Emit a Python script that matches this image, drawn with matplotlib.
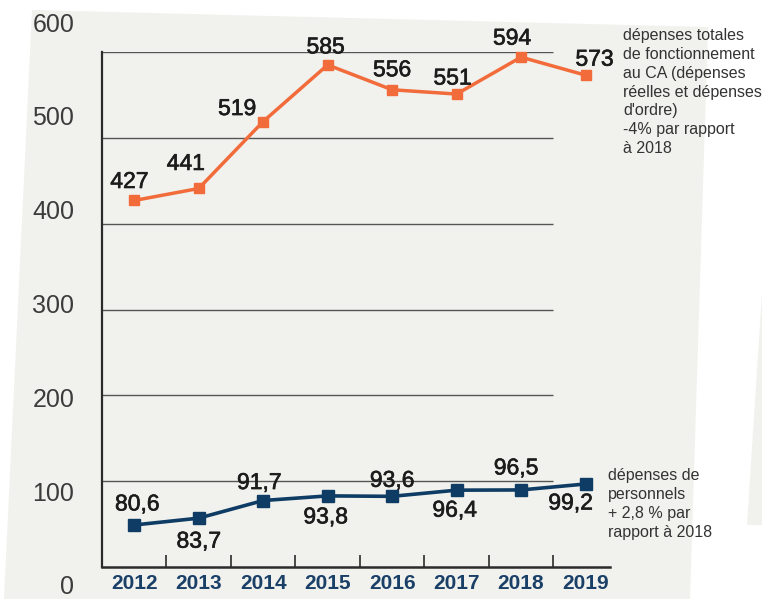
import matplotlib
matplotlib.use("Agg")
import matplotlib.pyplot as plt
import matplotlib.patheffects as pe
from matplotlib.patches import Polygon
import numpy as np

# data
years = ["2012", "2013", "2014", "2015", "2016", "2017", "2018", "2019"]
total = [427, 441, 519, 585, 556, 551, 594, 573]
staff = [80.6, 83.7, 91.7, 93.8, 93.6, 96.4, 96.5, 99.2]
ytick_vals = [0, 100, 200, 300, 400, 500, 600]

txt_total = ("dépenses totales\nde fonctionnement\nau CA (dépenses\n"
             "réelles et dépenses\nd'ordre)\n-4% par rapport\nà 2018")
txt_staff = "dépenses de\npersonnels\n+ 2,8 % par\nrapport à 2018"

# label offsets in pixels (dx, dy)
off_total = [(-5, 19), (-13, 25), (-26, 13), (-2, 18), (0, 20), (-4, 16), (-9, 19), (9, 16)]
off_staff = [(3, 21), (0, -23), (-4, 18), (-2, -21), (0, 16), (-2, -20), (-5, 22), (-15, -19)]

orange = "#f26b3a"
navy = "#0f3c64"
bg = "#f1f1ed"
dark = "#2b2b2b"
numcol = "#1c1c1c"

plt.rcParams["font.family"] = ["Liberation Sans", "DejaVu Sans"]

W, H = 762, 599
fig = plt.figure(figsize=(W / 100, H / 100), dpi=100)
fig.patch.set_facecolor("white")


def fx(x):
    return x / W


def fy(y):
    return 1 - y / H


# grey paper shapes
main_bg = [(32, 10), (708, 27), (690, 599), (4, 599)]
fig.add_artist(Polygon([(fx(a), fy(b)) for a, b in main_bg], closed=True,
                       transform=fig.transFigure, facecolor=bg, edgecolor="none", zorder=0))
wedge = [(764, 262), (764, 525), (747, 525)]
fig.add_artist(Polygon([(fx(a), fy(b)) for a, b in wedge], closed=True,
                       transform=fig.transFigure, facecolor=bg, edgecolor="none", zorder=0))

# main axes
left, right, top, bottom = 102, 610, 52, 567
ax = fig.add_axes([fx(left), fy(bottom), fx(right - left), (bottom - top) / H])
ax.patch.set_visible(False)
x = np.arange(len(years))
ax.set_xlim(-0.5, 7.38)
ax.set_ylim(0, 600)

ax.hlines([100, 200, 300, 400, 500, 600], -0.5, 6.5, color="#555555", lw=1.0, zorder=1)
for s in ["top", "right"]:
    ax.spines[s].set_visible(False)
ax.spines["left"].set_color(dark)
ax.spines["left"].set_linewidth(1.6)
ax.spines["bottom"].set_color(dark)
ax.spines["bottom"].set_linewidth(1.8)
ax.set_yticks([])

ax.set_xticks(x)
ax.set_xticklabels(years, fontsize=15, fontweight="bold", color="#1a4068")
ax.tick_params(axis="x", which="major", length=0, pad=5)
ax.set_xticks(x[:-1] + 0.5, minor=True)
ax.tick_params(axis="x", which="minor", direction="in", length=8.5, width=1.2, color=dark)

thick = [pe.withStroke(linewidth=0.45, foreground=numcol)]

ax.plot(x, total, color=orange, lw=2.5, marker="s", ms=7.5, zorder=3, clip_on=False)
for i, v in enumerate(total):
    ax.annotate(str(v), (x[i], v), xytext=off_total[i], textcoords="offset pixels",
                ha="center", va="center", fontsize=16.5, color=numcol,
                path_effects=thick, annotation_clip=False)

# personnel series on its own (hidden) scale
ax2 = ax.twinx()
ax2.set_ylim(61.54, 295.2)
ax2.axis("off")
ax2.plot(x, staff, color=navy, lw=2.6, marker="s", ms=8.5, zorder=3, clip_on=False)
for i, v in enumerate(staff):
    ax2.annotate(f"{v:.1f}".replace(".", ","), (x[i], v), xytext=off_staff[i],
                 textcoords="offset pixels", ha="center", va="center", fontsize=16.5,
                 color=numcol, path_effects=thick, annotation_clip=False)

# y value labels
axl = fig.add_axes([fx(left), fy(585), 0.01, (585 - 22) / H])
axl.set_ylim(0, 600)
axl.patch.set_visible(False)
for s in axl.spines.values():
    s.set_visible(False)
axl.set_xticks([])
axl.set_yticks(ytick_vals)
axl.set_yticklabels([str(v) for v in ytick_vals], fontsize=18, color="#3c3c3c")
axl.tick_params(axis="y", length=0, pad=20)

fig.text(fx(623), fy(28), txt_total, ha="left", va="top", fontsize=11.5,
         color="#333333", linespacing=1.32)
fig.text(fx(608), fy(468), txt_staff, ha="left", va="top", fontsize=11.5,
         color="#333333", linespacing=1.32)

fig.savefig("out.png", dpi=100)
